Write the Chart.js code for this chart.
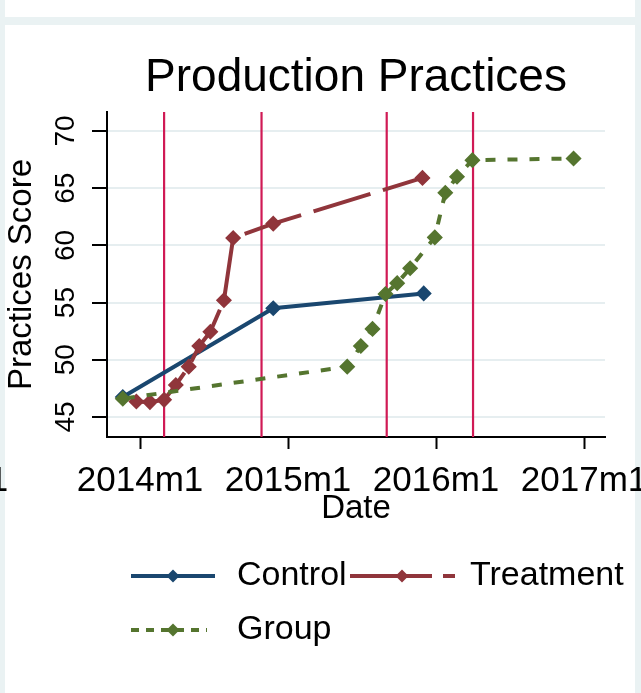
<!DOCTYPE html>
<html>
<head>
<meta charset="utf-8">
<title>Production Practices</title>
<script src="https://cdn.jsdelivr.net/npm/chart.js@4/dist/chart.umd.min.js"></script>
<style>
  html, body { margin: 0; padding: 0; background: #ffffff; }
  #wrap { width: 641px; height: 693px; position: relative; }
</style>
</head>
<body>
<div id="wrap"><canvas id="chart" width="641" height="693"></canvas></div>
<script>
// x values are months counted from 2014m1 (0 = Jan 2014)
const monthTicks = [0, 12, 24, 36];
const tickLabels = ['2014m1', '2015m1', '2016m1', '2017m1'];
const scoreTicks = [45, 50, 55, 60, 65, 70];

// months marked with vertical reference lines
const eventMonths = [1.95, 9.85, 20.0, 27.0];

const seriesNames = ['Control', 'Treatment', 'Group'];

const controlMonths = [-1.4, 10.8, 23.0];
const controlScores = [46.75, 54.5, 55.8];

const treatmentMonths = [-0.3, 0.8, 1.95, 2.9, 3.95, 4.8, 5.7, 6.8, 7.55, 10.8, 22.9];
const treatmentScores = [46.35, 46.3, 46.5, 47.8, 49.4, 51.2, 52.45, 55.2, 60.65, 61.9, 65.9];

const groupMonths = [-1.4, 16.8, 17.9, 18.85, 19.9, 20.85, 21.9, 23.9, 24.75, 25.7, 26.95, 35.15];
const groupScores = [46.6, 49.4, 51.2, 52.7, 55.75, 56.7, 58.0, 60.7, 64.6, 66.0, 67.45, 67.6];

const FONT = "'Liberation Sans', Arial, Helvetica, sans-serif";
const NAVY = '#1a476f';
const MAROON = '#90353b';
const GREEN = '#55752f';
const CRANBERRY = '#d01a55';
const PANEL = '#eaf2f3';
const GRID = '#e6eef0';

Chart.defaults.font.family = FONT;
Chart.defaults.color = '#000';

const toPoints = (xs, ys) => xs.map((x, i) => ({ x: x, y: ys[i] }));

// light frame with white panels; the neighbouring panel's last axis label
// is cut off by the left edge
const backdrop = {
  id: 'backdrop',
  beforeDraw(chart) {
    const c = chart.ctx;
    c.save();
    c.fillStyle = PANEL;
    c.fillRect(0, 0, chart.width, chart.height);
    c.fillStyle = '#ffffff';
    c.fillRect(5, 0, 630, 17);
    c.fillRect(5, 25, 630, chart.height - 25);
    c.fillStyle = '#000';
    c.font = '35px ' + FONT;
    c.textAlign = 'center';
    c.textBaseline = 'middle';
    c.fillText(tickLabels[tickLabels.length - 1], -55, 481);
    c.restore();
  }
};

// vertical reference lines, placed through the x scale
const eventLines = {
  id: 'eventLines',
  beforeDatasetsDraw(chart) {
    const c = chart.ctx, area = chart.chartArea, xs = chart.scales.x;
    c.save();
    c.strokeStyle = CRANBERRY;
    c.lineWidth = 2.2;
    eventMonths.forEach(m => {
      const px = xs.getPixelForValue(m);
      c.beginPath();
      c.moveTo(px, area.top);
      c.lineTo(px, area.bottom);
      c.stroke();
    });
    c.restore();
  }
};

function diamond(c, x, y, r, color) {
  c.save();
  c.fillStyle = color;
  c.beginPath();
  c.moveTo(x, y - r);
  c.lineTo(x + r, y);
  c.lineTo(x, y + r);
  c.lineTo(x - r, y);
  c.closePath();
  c.fill();
  c.restore();
}

// two-column legend beneath the plot
const keyLegend = {
  id: 'keyLegend',
  afterDraw(chart) {
    const c = chart.ctx;
    const slots = [
      { x0: 131, x1: 215, mx: 173, tx: 237, y: 576, dash: [] },
      { x0: 350, x1: 455, mx: 402, tx: 470, y: 576, dash: [82, 11] },
      { x0: 131, x1: 207, mx: 173, tx: 237, y: 630, dash: [8, 7] }
    ];
    chart.data.datasets.forEach((ds, i) => {
      const s = slots[i];
      c.save();
      c.strokeStyle = ds.borderColor;
      c.lineWidth = 4;
      c.setLineDash(s.dash);
      c.beginPath();
      c.moveTo(s.x0, s.y);
      c.lineTo(s.x1, s.y);
      c.stroke();
      c.restore();
      diamond(c, s.mx, s.y, 6.5, ds.borderColor);
      c.save();
      c.fillStyle = '#000';
      c.font = '34px ' + FONT;
      c.textBaseline = 'middle';
      c.textAlign = 'left';
      c.fillText(ds.label, s.tx, s.y);
      c.restore();
    });
  }
};

const lineStyle = (color) => ({
  borderColor: color,
  backgroundColor: color,
  borderWidth: 4,
  pointStyle: 'rectRot',
  pointRadius: 7,
  pointHoverRadius: 7,
  pointBackgroundColor: color,
  pointBorderColor: color,
  pointBorderWidth: 1.5,
  tension: 0,
  fill: false
});

new Chart(document.getElementById('chart'), {
  type: 'line',
  data: {
    datasets: [
      Object.assign({ label: seriesNames[0], data: toPoints(controlMonths, controlScores), order: 2 }, lineStyle(NAVY)),
      Object.assign({ label: seriesNames[1], data: toPoints(treatmentMonths, treatmentScores), order: 1,
        borderDash: [59.5, 13], borderDashOffset: -2.5 }, lineStyle(MAROON)),
      Object.assign({ label: seriesNames[2], data: toPoints(groupMonths, groupScores), order: 0,
        borderDash: [10, 12], borderDashOffset: 20 }, lineStyle(GREEN))
    ]
  },
  options: {
    responsive: false,
    animation: false,
    events: [],
    layout: { padding: { left: 0, right: 36, top: 0, bottom: 156 } },
    plugins: {
      legend: { display: false },
      tooltip: { enabled: false },
      title: {
        display: true,
        text: 'Production Practices',
        fullSize: false,
        color: '#000',
        font: { family: FONT, size: 46, weight: 'normal', lineHeight: 1.2 },
        padding: { top: 51, bottom: 5.8 }
      }
    },
    scales: {
      x: {
        type: 'linear',
        min: -2.68,
        max: 37.7,
        afterBuildTicks: s => { s.ticks = monthTicks.map(v => ({ value: v })); },
        afterFit: s => { s.height = 100; s.paddingLeft = 0; s.paddingRight = 0; },
        ticks: {
          autoSkip: false, minRotation: 0, maxRotation: 0, padding: 11,
          color: '#000', font: { size: 35 },
          callback: v => tickLabels[monthTicks.indexOf(v)]
        },
        grid: { display: true, drawOnChartArea: false, tickLength: 12, tickWidth: 2, tickColor: '#000' },
        border: { display: true, color: '#000', width: 2 },
        title: { display: true, text: 'Date', color: '#000', font: { size: 33 }, padding: { top: 0, bottom: 8.6 } }
      },
      y: {
        type: 'linear',
        min: 43.25,
        max: 71.66,
        afterBuildTicks: s => { s.ticks = scoreTicks.map(v => ({ value: v })); },
        afterFit: s => { s.width = 107; s.paddingTop = 0; s.paddingBottom = 0; },
        ticks: {
          minRotation: 90, maxRotation: 90, crossAlign: 'center', padding: 10,
          color: '#000', font: { size: 28 },
          callback: v => String(v)
        },
        grid: { display: true, drawOnChartArea: true, color: GRID, lineWidth: 2, tickLength: 15, tickWidth: 2, tickColor: '#000' },
        border: { display: true, color: '#000', width: 2 },
        title: { display: true, text: 'Practices Score', color: '#000', font: { size: 33 }, padding: { top: 2, bottom: 0 } }
      }
    }
  },
  plugins: [backdrop, eventLines, keyLegend]
});
</script>
</body>
</html>
